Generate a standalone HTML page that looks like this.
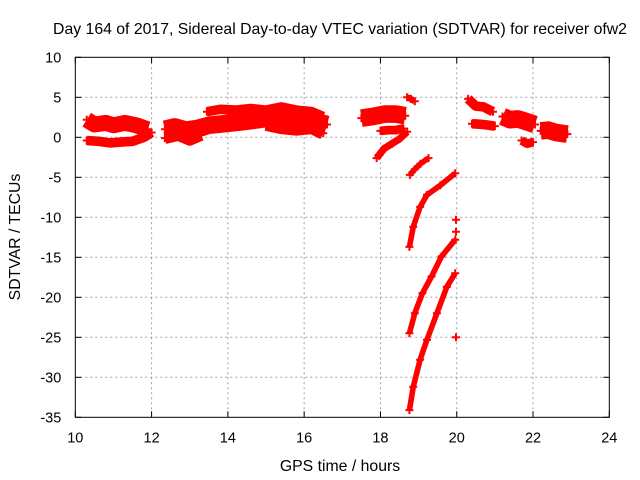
<!DOCTYPE html>
<html><head><meta charset="utf-8"><style>
html,body{margin:0;padding:0;background:#fff;}
svg{display:block;font-family:"Liberation Sans",sans-serif;}
</style></head><body>
<svg id="chart" width="640" height="480" viewBox="0 0 640 480" xmlns="http://www.w3.org/2000/svg">
<text x="340" y="34" font-size="15.8" text-anchor="middle">Day 164 of 2017, Sidereal Day-to-day VTEC variation (SDTVAR) for receiver ofw2</text>
<text x="340" y="471" font-size="15.8" text-anchor="middle">GPS time / hours</text>
<text x="0" y="0" font-size="15.8" text-anchor="middle" transform="translate(20,237) rotate(-90)">SDTVAR / TECUs</text>
<g id="grid"></g>
<g id="marks"></g>
<rect x="75.3" y="57.3" width="534" height="360" fill="none" stroke="#000" stroke-width="1"/>
<g id="ticks"></g>
</svg>
<script>
const xTicks=[10,12,14,16,18,20,22,24];
const yTicks=[10,5,0,-5,-10,-15,-20,-25,-30,-35];
// bands: times, values, thickness (TECU)
const bandA1T=[10.3,10.5,10.8,11.0,11.3,11.6,11.9];
const bandA1V=[2.2,1.6,1.8,1.5,1.8,1.5,1.0];
const bandA2T=[10.3,10.6,10.9,11.2,11.5,11.8,12.0];
const bandA2V=[-0.4,-0.5,-0.7,-0.6,-0.5,0.0,0.6];
const bandB1T=[12.35,12.6,12.9,13.2,13.5,13.9,14.3,14.8,15.2,15.6,16.0,16.3,16.6];
const bandB1V=[1.0,1.3,0.9,1.1,1.5,1.7,1.9,2.2,2.5,2.6,2.4,2.0,1.6];
const bandB2T=[12.35,12.7,13.0,13.3];
const bandB2V=[-0.1,0.3,-0.3,0.3];
const bandB3T=[13.45,13.8,14.2,14.6,15.0,15.4,15.8,16.2,16.5];
const bandB3V=[3.2,3.5,3.4,3.6,3.4,3.8,3.4,3.2,2.6];
const bandB4T=[15.0,15.4,15.8,16.2,16.5];
const bandB4V=[1.6,1.2,1.0,1.2,0.5];
const bandC1T=[17.5,17.8,18.1,18.4,18.65];
const bandC1V=[2.4,2.6,2.9,2.9,2.7];
const bandC2T=[18.0,18.2,18.4,18.6];
const bandC2V=[0.8,0.9,0.9,1.1];
const bandC3T=[17.9,18.1,18.3,18.5,18.7];
const bandC3V=[-2.6,-1.4,-0.8,-0.2,0.7];
const bandC4T=[18.7,18.8,18.9];
const bandC4V=[5.0,4.8,4.5];
const curve1T=[18.77,18.9,19.05,19.26];
const curve1V=[-4.7,-4.0,-3.3,-2.6];
const curve2T=[18.76,18.86,19.04,19.22,19.57,19.96];
const curve2V=[-13.7,-11.2,-8.7,-7.2,-6.0,-4.5];
const curve3T=[18.76,18.9,19.1,19.34,19.6,19.96];
const curve3V=[-24.5,-22.0,-19.5,-17.4,-14.9,-12.8];
const curve4T=[18.76,18.86,19.04,19.22,19.48,19.74,19.96];
const curve4V=[-34.1,-31.2,-27.8,-25.3,-22.0,-18.7,-17.0];
const isoT=[19.98,19.98,19.98];
const isoV=[-10.3,-11.8,-25.0];
const bandD1T=[20.3,20.5,20.7,20.95];
const bandD1V=[4.8,3.9,3.8,3.2];
const bandD2T=[20.4,20.7,21.0];
const bandD2V=[1.7,1.6,1.4];
const bandE1T=[21.2,21.4,21.6,21.8,22.05];
const bandE1V=[2.6,2.2,2.3,2.0,1.6];
const bandE2T=[21.7,21.85,22.0];
const bandE2V=[-0.4,-0.8,-0.6];
const bandF1T=[22.2,22.4,22.6,22.9];
const bandF1V=[0.8,0.9,0.6,0.4];
const bands=[[bandA1T,bandA1V,2.0],[bandA2T,bandA2V,1.2],[bandB1T,bandB1V,2.2],[bandB2T,bandB2V,1.5],[bandB3T,bandB3V,1.2],[bandB4T,bandB4V,1.6],[bandC1T,bandC1V,2.2],[bandC2T,bandC2V,1.1],[bandC3T,bandC3V,0.9],[bandC4T,bandC4V,0.8],[curve1T,curve1V,0.7],[curve2T,curve2V,0.7],[curve3T,curve3V,0.7],[curve4T,curve4V,0.7],[bandD1T,bandD1V,1.2],[bandD2T,bandD2V,1.2],[bandE1T,bandE1V,2.2],[bandE2T,bandE2V,1.1],[bandF1T,bandF1V,2.2]];
const L=75.3,R=609.3,T=57.3,B=417.3;
const x=t=>L+(t-10)/14*(R-L);
const y=v=>T+(10-v)/45*(B-T);
const NS='http://www.w3.org/2000/svg';
const grid=document.getElementById('grid'),ticks=document.getElementById('ticks'),marks=document.getElementById('marks'),svg=document.getElementById('chart');
function mk(tag,a,p){const e=document.createElementNS(NS,tag);for(const k in a)e.setAttribute(k,a[k]);p.appendChild(e);return e;}
xTicks.forEach(t=>{
 if(t>10&&t<24){const g=mk('line',{x1:x(t),x2:x(t),y1:T,y2:B,stroke:'#a0a0a0','stroke-dasharray':'2,3'},grid);}
 const a=mk('line',{x1:x(t),x2:x(t),y1:B,y2:B-6,stroke:'#000'},ticks);
 const b=mk('line',{x1:x(t),x2:x(t),y1:T,y2:T+6,stroke:'#000'},ticks);
 const l=mk('text',{x:x(t),y:B+25,'font-size':14.5,'text-anchor':'middle'},svg);l.textContent=t;
});
yTicks.forEach(v=>{
 if(v<10&&v>-35){const g=mk('line',{x1:L,x2:R,y1:y(v),y2:y(v),stroke:'#a0a0a0','stroke-dasharray':'2,3'},grid);}
 const a=mk('line',{x1:L,x2:L+6,y1:y(v),y2:y(v),stroke:'#000'},ticks);
 const b=mk('line',{x1:R,x2:R-6,y1:y(v),y2:y(v),stroke:'#000'},ticks);
 const l=mk('text',{x:L-14,y:y(v)+5,'font-size':14.5,'text-anchor':'end'},svg);l.textContent=v;
});
function plus(t,v){const px=x(t),py=y(v);const p=mk('path',{d:`M${px-4},${py}h8M${px},${py-4}v8`,stroke:'#f00','stroke-width':2},marks);}
bands.forEach(([ts,vs,w])=>{
 const pts=ts.map((t,i)=>x(t)+','+y(vs[i])).join(' ');
 const pl=mk('polyline',{points:pts,fill:'none',stroke:'#f00','stroke-width':w*8,'stroke-linejoin':'round','stroke-linecap':'butt'},marks);
 
 
 ts.forEach((t,i)=>plus(t,vs[i]));
});
isoT.forEach((t,i)=>plus(t,isoV[i]));
</script>
</body></html>
